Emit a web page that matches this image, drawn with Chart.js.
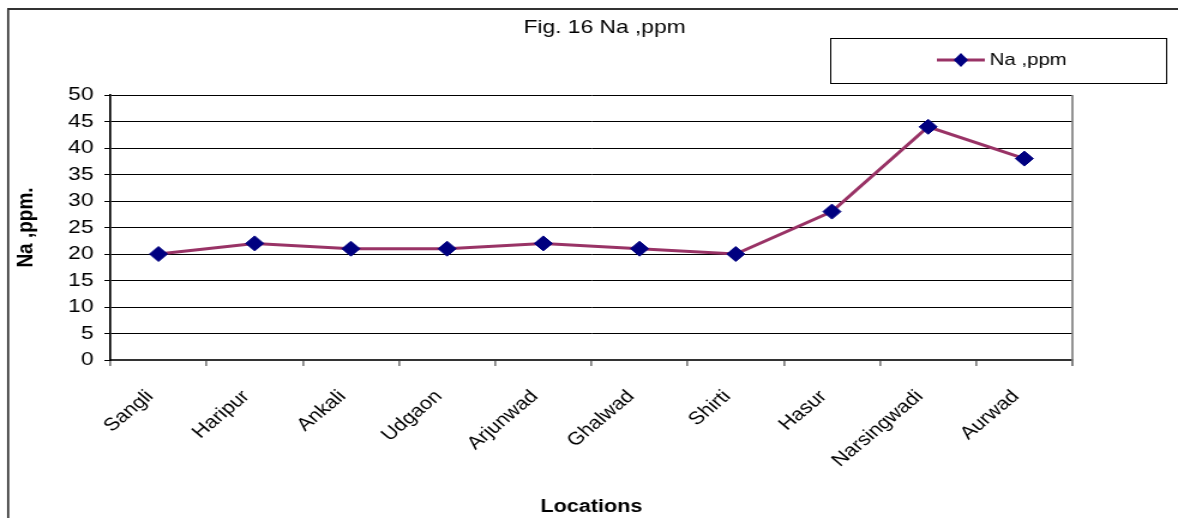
<!DOCTYPE html>
<html>
<head>
<meta charset="utf-8">
<script src="https://cdn.jsdelivr.net/npm/chart.js@4"></script>
<style>
  html, body { margin: 0; padding: 0; background: #fff; overflow: hidden; }
  /* the original figure is a horizontally stretched spreadsheet chart */
  #wrap { width: 982px; height: 518px; transform: scaleX(1.19959); transform-origin: 0 0; }
</style>
</head>
<body>
<div id="wrap"><canvas id="naChart" width="982" height="518"></canvas></div>
<script>
// chart data
const locations = ['Sangli', 'Haripur', 'Ankali', 'Udgaon', 'Arjunwad', 'Ghalwad', 'Shirti', 'Hasur', 'Narsingwadi', 'Aurwad'];
const naValues = [20, 22, 21, 21, 22, 21, 20, 28, 44, 38];
const yTicks = [0, 5, 10, 15, 20, 25, 30, 35, 40, 45, 50];

const seriesName = 'Na ,ppm';
const chartTitle = 'Fig. 16 Na ,ppm';
const lineColor = '#993366';
const markerColor = '#000080';
const FONT = "'Liberation Sans', Arial, sans-serif";

// frame, title, legend box and plot border, like the old spreadsheet chart
const decorPlugin = {
  id: 'decor',
  afterDraw(chart) {
    const ctx = chart.ctx;
    const a = chart.chartArea;
    ctx.save();
    // outer frame (left and top only visible)
    ctx.strokeStyle = '#333';
    ctx.lineWidth = 1.7;
    ctx.beginPath();
    ctx.moveTo(6.8, 518);
    ctx.lineTo(6.8, 9);
    ctx.stroke();
    ctx.lineWidth = 2;
    ctx.beginPath();
    ctx.moveTo(6, 9);
    ctx.lineTo(982, 9);
    ctx.stroke();

    // plot right border
    ctx.strokeStyle = '#808080';
    ctx.lineWidth = 1.7;
    ctx.beginPath();
    ctx.moveTo(a.right, a.top);
    ctx.lineTo(a.right, a.bottom + 6);
    ctx.stroke();

    // title
    ctx.fillStyle = '#000';
    ctx.font = '19px ' + FONT;
    ctx.textAlign = 'center';
    ctx.textBaseline = 'middle';
    ctx.fillText(chartTitle, 504, 28);

    // legend
    ctx.strokeStyle = '#000';
    ctx.lineWidth = 1;
    ctx.strokeRect(692.5, 38.5, 280, 45);
    ctx.strokeStyle = lineColor;
    ctx.lineWidth = 3;
    ctx.beginPath();
    ctx.moveTo(781, 60);
    ctx.lineTo(821, 60);
    ctx.stroke();
    ctx.fillStyle = markerColor;
    ctx.beginPath();
    ctx.moveTo(801, 53);
    ctx.lineTo(807, 60);
    ctx.lineTo(801, 67);
    ctx.lineTo(795, 60);
    ctx.closePath();
    ctx.fill();
    ctx.fillStyle = '#000';
    ctx.font = '17px ' + FONT;
    ctx.textAlign = 'left';
    ctx.fillText(seriesName, 825, 60);
    ctx.restore();
  }
};

const ctx = document.getElementById('naChart').getContext('2d');
new Chart(ctx, {
  type: 'line',
  data: {
    labels: locations,
    datasets: [{
      label: seriesName,
      data: naValues,
      borderColor: lineColor,
      borderWidth: 3,
      pointStyle: 'rectRot',
      pointRadius: 7.5,
      pointHoverRadius: 7.5,
      pointBackgroundColor: markerColor,
      pointBorderColor: markerColor,
      pointBorderWidth: 1,
      tension: 0
    }]
  },
  options: {
    responsive: false,
    animation: false,
    devicePixelRatio: 1,
    layout: { padding: { top: 95, right: 88, bottom: 0, left: 0 } },
    plugins: {
      legend: { display: false },
      title: { display: false },
      tooltip: { enabled: false }
    },
    scales: {
      x: {
        type: 'category',
        offset: true,
        afterFit(scale) { scale.height = 158; },
        grid: {
          offset: true,
          drawOnChartArea: false,
          drawTicks: true,
          tickLength: 6,
          color: '#808080',
          lineWidth: 1.7
        },
        border: { display: true, color: '#333', width: 2 },
        ticks: {
          color: '#000',
          font: { family: FONT, size: 18 },
          maxRotation: 45,
          minRotation: 45,
          padding: 20,
          labelOffset: -7,
          autoSkip: false
        },
        title: {
          display: true,
          text: 'Locations',
          color: '#000',
          font: { family: FONT, size: 18, weight: 'bold' },
          padding: { top: 0, bottom: 0 }
        }
      },
      y: {
        min: 0,
        max: 50,
        afterFit(scale) { scale.width = 92; },
        afterBuildTicks(scale) { scale.ticks = yTicks.map(v => ({ value: v })); },
        grid: {
          color: '#000',
          lineWidth: 1,
          tickLength: 5
        },
        border: { display: true, color: '#000', width: 1.7 },
        ticks: {
          color: '#000',
          font: { family: FONT, size: 19 },
          padding: 9
        },
        title: {
          display: true,
          text: 'Na ,ppm.',
          color: '#000',
          font: { family: FONT, size: 19, weight: 'bold' },
          padding: { top: 10, bottom: 0 }
        }
      }
    }
  },
  plugins: [decorPlugin]
});
</script>
</body>
</html>
